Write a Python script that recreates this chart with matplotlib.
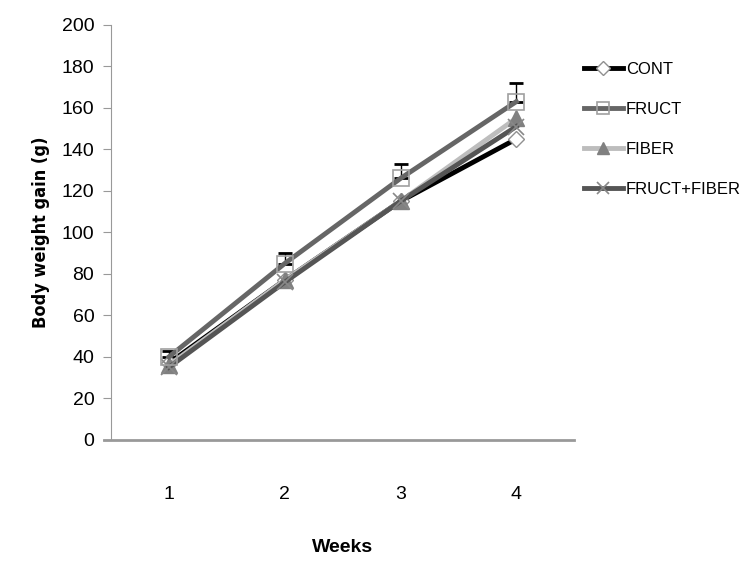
import matplotlib
matplotlib.use("Agg")
import matplotlib.pyplot as plt

plt.rcParams['font.family'] = ['Liberation Sans Narrow', 'Liberation Sans', 'DejaVu Sans']
plt.rcParams['font.stretch'] = 'condensed'

weeks = [1, 2, 3, 4]
cont = [37, 77, 115, 145]
fruct = [40, 85, 126, 163]
fruct_err = [3, 5, 7, 9]
fiber = [36, 77, 115, 155]
fruct_fiber = [35, 76, 115, 151]

fig = plt.figure(figsize=(7.4, 5.64), dpi=100)
ax = fig.add_axes([0.15, 0.22, 0.626, 0.736])

ax.errorbar(weeks, fruct, yerr=[[0] * 4, fruct_err], fmt='none',
            ecolor='black', elinewidth=1, capsize=5, capthick=2, zorder=1)

ax.plot(weeks, cont, color='black', lw=3.5, marker='D', ms=8,
        mfc='white', mec='#909090', mew=1, label='CONT', zorder=2)
ax.plot(weeks, fruct, color='#666666', lw=3.5, marker='s', ms=11,
        mfc='none', mec='#a0a0a0', mew=1.2, label='FRUCT', zorder=3)
ax.plot(weeks, fiber, color='#bdbdbd', lw=3.5, marker='^', ms=11,
        mfc='#808080', mec='#808080', label='FIBER', zorder=2)
ax.plot(weeks, fruct_fiber, color='#555555', lw=3.5, marker='x', ms=11,
        mec='#888888', mew=1.2, label='FRUCT+FIBER', zorder=2)

ax.set_xlim(0.5, 4.5)
ax.set_ylim(0, 200)
ax.set_yticks(range(0, 201, 20))
ax.set_xticks(weeks)

for s in ['top', 'right']:
    ax.spines[s].set_visible(False)
ax.spines['left'].set_color('#999999')
ax.spines['bottom'].set_color('#999999')
ax.spines['bottom'].set_linewidth(2)
ax.spines['bottom'].set_bounds(0.44, 4.5)
ax.tick_params(axis='y', color='#999999', length=6, labelsize=14, pad=6)
ax.tick_params(axis='x', length=0, labelsize=14, pad=33)

ax.set_ylabel('Body weight gain (g)', fontsize=13, fontweight='bold',
              family=['DejaVu Sans'], labelpad=8)
ax.set_xlabel('Weeks', fontsize=14, fontweight='bold', labelpad=26)

ax.legend(loc='upper left', bbox_to_anchor=(1.0, 0.935), frameon=False,
          fontsize=12, handlelength=2.3, handletextpad=0.2, labelspacing=1.5,
          borderaxespad=0.2, markerscale=0.85)

fig.savefig('out.png', dpi=100)
